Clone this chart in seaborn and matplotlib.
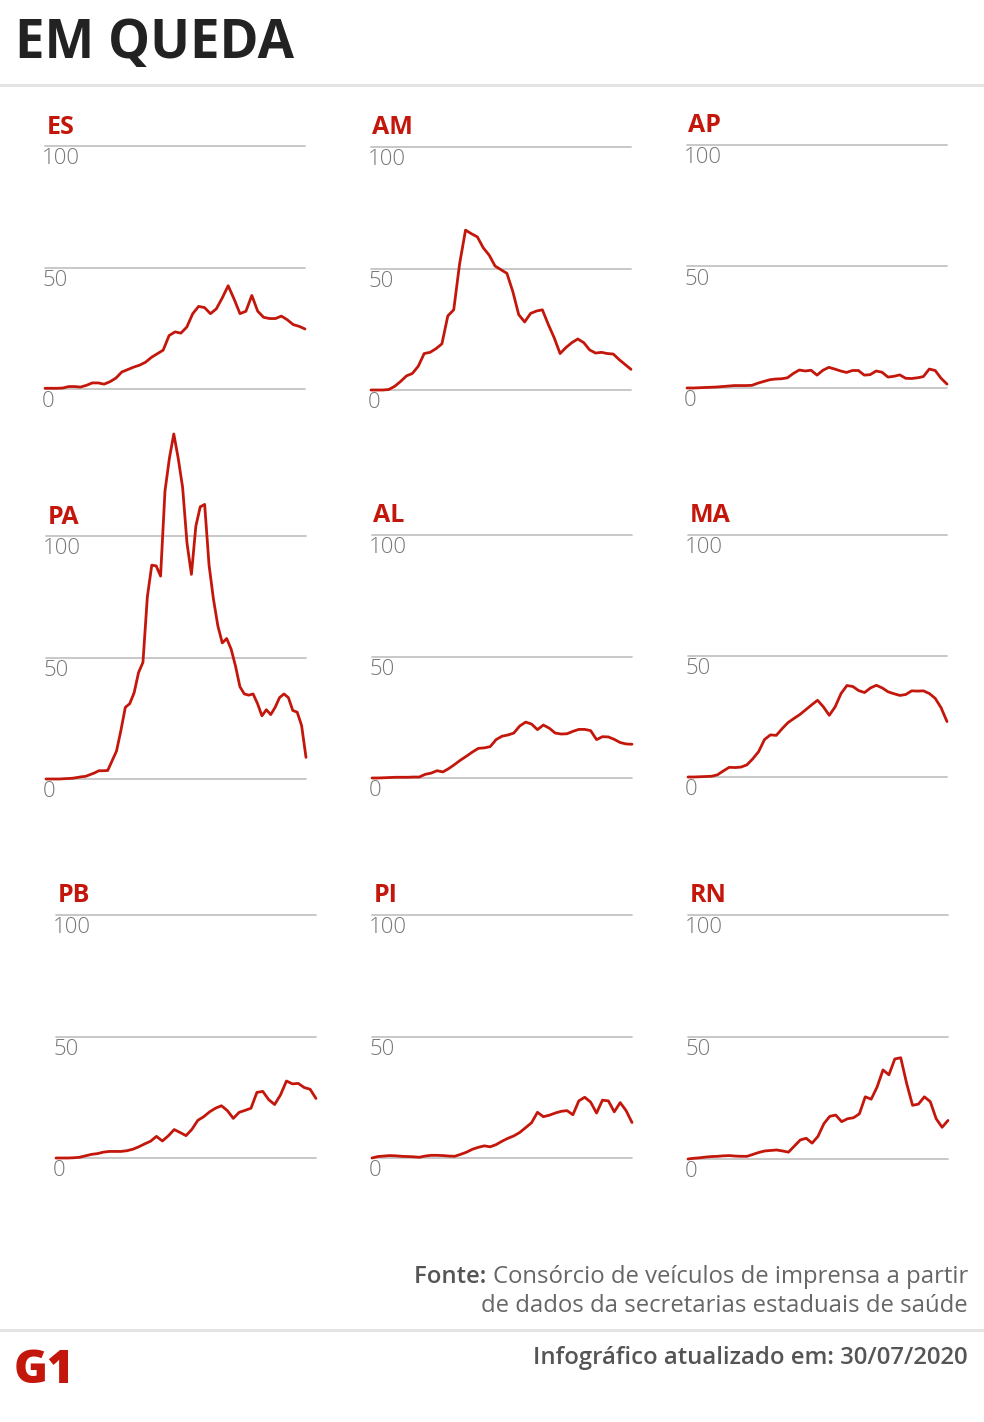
import numpy as np
import pandas as pd
import matplotlib.pyplot as plt
import seaborn as sns
from matplotlib.lines import Line2D

######################################################### DATA #################################################################
# media movel de mortes por estado
estados = ['ES', 'AM', 'AP', 'PA', 'AL', 'MA', 'PB', 'PI', 'RN']

es = [0.3, 0.3, 0.3, 0.4, 1, 1, 0.8, 1.5, 2.5, 2.5, 2, 3, 4.5, 7, 8, 9, 9.8, 11, 13, 14.5,
      16, 22, 23.5, 23, 25.5, 31, 34, 33.5, 31, 33, 37.5, 42.5, 37, 31, 32, 38.5, 32, 29.5,
      29, 29, 30, 28.5, 26.5, 25.8, 24.7]
am = [0, 0, 0, 0.2, 1.5, 3.5, 5.8, 6.8, 9.8, 15, 15.5, 17, 19, 30.5, 33, 52, 65.8, 64.3,
      63, 58.5, 55.5, 51, 49.5, 48, 40.5, 31, 28, 31.5, 32.5, 33, 27, 21.5, 15, 17.5, 19.5,
      21, 19.5, 16.5, 15.2, 15.5, 15, 14.8, 12.5, 10.5, 8.5]
ap = [0, 0, 0.1, 0.2, 0.3, 0.4, 0.6, 0.8, 1, 1, 1, 1.1, 2, 2.7, 3.4, 3.7, 3.8, 4.2, 6, 7.4,
      7, 7.3, 5.3, 7.3, 8.5, 7.8, 7, 6.4, 7.2, 7.2, 5.3, 5.5, 7, 6.5, 4.5, 4.8, 5.4, 4, 3.9,
      4.2, 4.7, 7.8, 7.2, 4, 1.6]
pa = [0, 0, 0, 0, 0.1, 0.2, 0.3, 0.6, 0.9, 1.1, 1.8, 2.5, 3.4, 3.4, 3.5, 7.5, 11.5, 20,
      29.5, 31, 35.5, 43.8, 48, 75, 88, 87.7, 83.5, 118.5, 132, 142, 132, 120, 97, 84.2,
      104, 112, 113, 88, 74, 63, 56, 57.8, 53.5, 46.5, 38, 35, 34.5, 35, 31, 26, 28.5, 26.5,
      29.5, 33.5, 35, 33.5, 28.2, 27.5, 22, 8.9]
al = [0, 0, 0.1, 0.2, 0.3, 0.3, 0.3, 0.4, 0.4, 1.5, 2, 3, 2.5, 3.9, 5.6, 7.4, 9, 10.7, 12.2,
      12.4, 12.9, 15.8, 17.2, 17.7, 18.5, 21.4, 23, 22.2, 19.9, 21.8, 20.5, 18.5, 18.1, 18.2,
      19.2, 20, 20, 19.5, 15.8, 17, 16.9, 15.9, 14.6, 14, 13.9]
ma = [0, 0, 0.1, 0.2, 0.3, 0.9, 2.5, 4, 3.9, 4.1, 5, 7.5, 10.5, 15.5, 17.4, 17.2, 20, 22.5,
      24.2, 25.8, 27.8, 29.8, 31.7, 29, 25.5, 29, 34.5, 37.8, 37.4, 35.7, 34.9, 36.8, 37.9,
      36.8, 35.2, 34.4, 33.7, 34.1, 35.6, 35.5, 35.6, 34.5, 32.5, 28.6, 22.9]
pb = [0, 0, 0, 0.1, 0.3, 0.9, 1.5, 1.8, 2.4, 2.7, 2.7, 2.7, 3, 3.6, 4.6, 5.8, 6.9, 8.9, 7,
      9.1, 11.7, 10.5, 9.2, 11.8, 15.5, 17, 19, 20.5, 21.5, 19.5, 16.3, 18.8, 19.6, 20.5, 27,
      27.4, 24, 22, 26, 31.7, 30.5, 30.7, 29, 28.3, 24.5]
pi = [0, 0.6, 0.8, 1, 0.9, 0.7, 0.6, 0.5, 0.3, 0.8, 1.1, 1.1, 1, 0.8, 0.7, 1.5, 2.4, 3.6,
      4.4, 5, 4.6, 5.5, 6.9, 8.1, 9.1, 10.5, 12.5, 14.5, 18.8, 17, 17.6, 18.5, 19.2, 19.5,
      17.8, 23.5, 25, 23, 18.5, 23.8, 23.5, 19, 22.8, 19.5, 14.6]
rn = [0, 0.3, 0.5, 0.8, 1, 1.1, 1.3, 1.4, 1.2, 1.1, 1.1, 1.9, 2.7, 3.3, 3.5, 3.7, 3.3, 2.8,
      5.3, 7.8, 8.5, 6.5, 9.3, 14.5, 17.5, 18, 15.3, 16.5, 16.9, 18.5, 25.5, 24.5, 29.5,
      36.5, 34.5, 41, 41.5, 31, 22, 22.5, 25.5, 23.5, 16.5, 13, 15.8]

series = [es, am, ap, pa, al, ma, pb, pi, rn]
yticks = [0, 50, 100]

######################################################### LAYOUT #################################################################
W, H = 984, 1422
RED = '#c4170c'
TXT = '#777777'
GRID = '#c4c4c4'

# (esquerda, direita, linha do 0, linha do 100) em pixels
boxes = [(45, 305, 389, 146), (371, 631, 390, 147), (687, 947, 388, 145),
         (46, 306, 779, 536), (372, 632, 778, 535), (688, 947, 777, 535),
         (56, 316, 1158, 915), (372, 632, 1158, 915), (688, 948, 1159, 915)]

sns.set_style('white')
plt.rcParams['font.family'] = ['Open Sans', 'DejaVu Sans']

fig = plt.figure(figsize=(W / 100, H / 100), dpi=100)


def px_axes(left, right, y0, y100):
    return fig.add_axes([left / W, 1 - y0 / H, (right - left) / W, (y0 - y100) / H])


for name, vals, box in zip(estados, series, boxes):
    ax = px_axes(*box)
    df = pd.DataFrame({'dia': np.arange(len(vals)), 'mortes': vals})
    for g in yticks:
        ax.axhline(g, color=GRID, lw=1.3, zorder=0, clip_on=False)
        ax.annotate(str(g), xy=(0, g), xycoords=('axes fraction', 'data'),
                    xytext=(-2, -1.5), textcoords='offset points', ha='left', va='top',
                    fontsize=16, fontweight='light', color=TXT)
    sns.lineplot(data=df, x='dia', y='mortes', ax=ax, color=RED, lw=2, clip_on=False, zorder=3)
    ax.annotate(name, xy=(0, 100), xycoords=('axes fraction', 'data'),
                xytext=(1, 9), textcoords='offset points', ha='left', va='baseline',
                fontsize=18, fontweight='bold', color=RED)
    ax.set_xlim(0, len(vals) - 1)
    ax.set_ylim(0, 100)
    ax.axis('off')

# titulo e separadores
fig.text(15 / W, 1 - 58 / H, 'EM QUEDA', fontsize=38, fontweight='bold', color='#222222',
         ha='left', va='baseline')
for yl in (85, 1330):
    fig.add_artist(Line2D([0, 1], [1 - yl / H, 1 - yl / H], transform=fig.transFigure,
                          color='#e4e4e4', lw=2.2))

# rodape
FS = 17.2
t1 = fig.text(968 / W, 1 - 1283 / H, 'Consórcio de veículos de imprensa a partir',
              fontsize=FS, color='#666666', ha='right', va='baseline')
fig.text(968 / W, 1 - 1312 / H, 'de dados da secretarias estaduais de saúde',
         fontsize=FS, color='#666666', ha='right', va='baseline')
plt.annotate('Fonte: ', xy=(0, 0), xycoords=t1, xytext=(0, 0), textcoords='offset points',
             ha='right', va='bottom', fontsize=FS, color='#555555', fontweight='semibold',
             annotation_clip=False)
fig.text(968 / W, 1 - 1364 / H, 'Infográfico atualizado em: 30/07/2020', fontsize=FS,
         color='#555555', fontweight='semibold', ha='right', va='baseline')
fig.text(14 / W, 1 - 1383 / H, 'G1', fontsize=33, fontweight='heavy', color=RED,
         ha='left', va='baseline')

plt.savefig('out.png', dpi=100)
